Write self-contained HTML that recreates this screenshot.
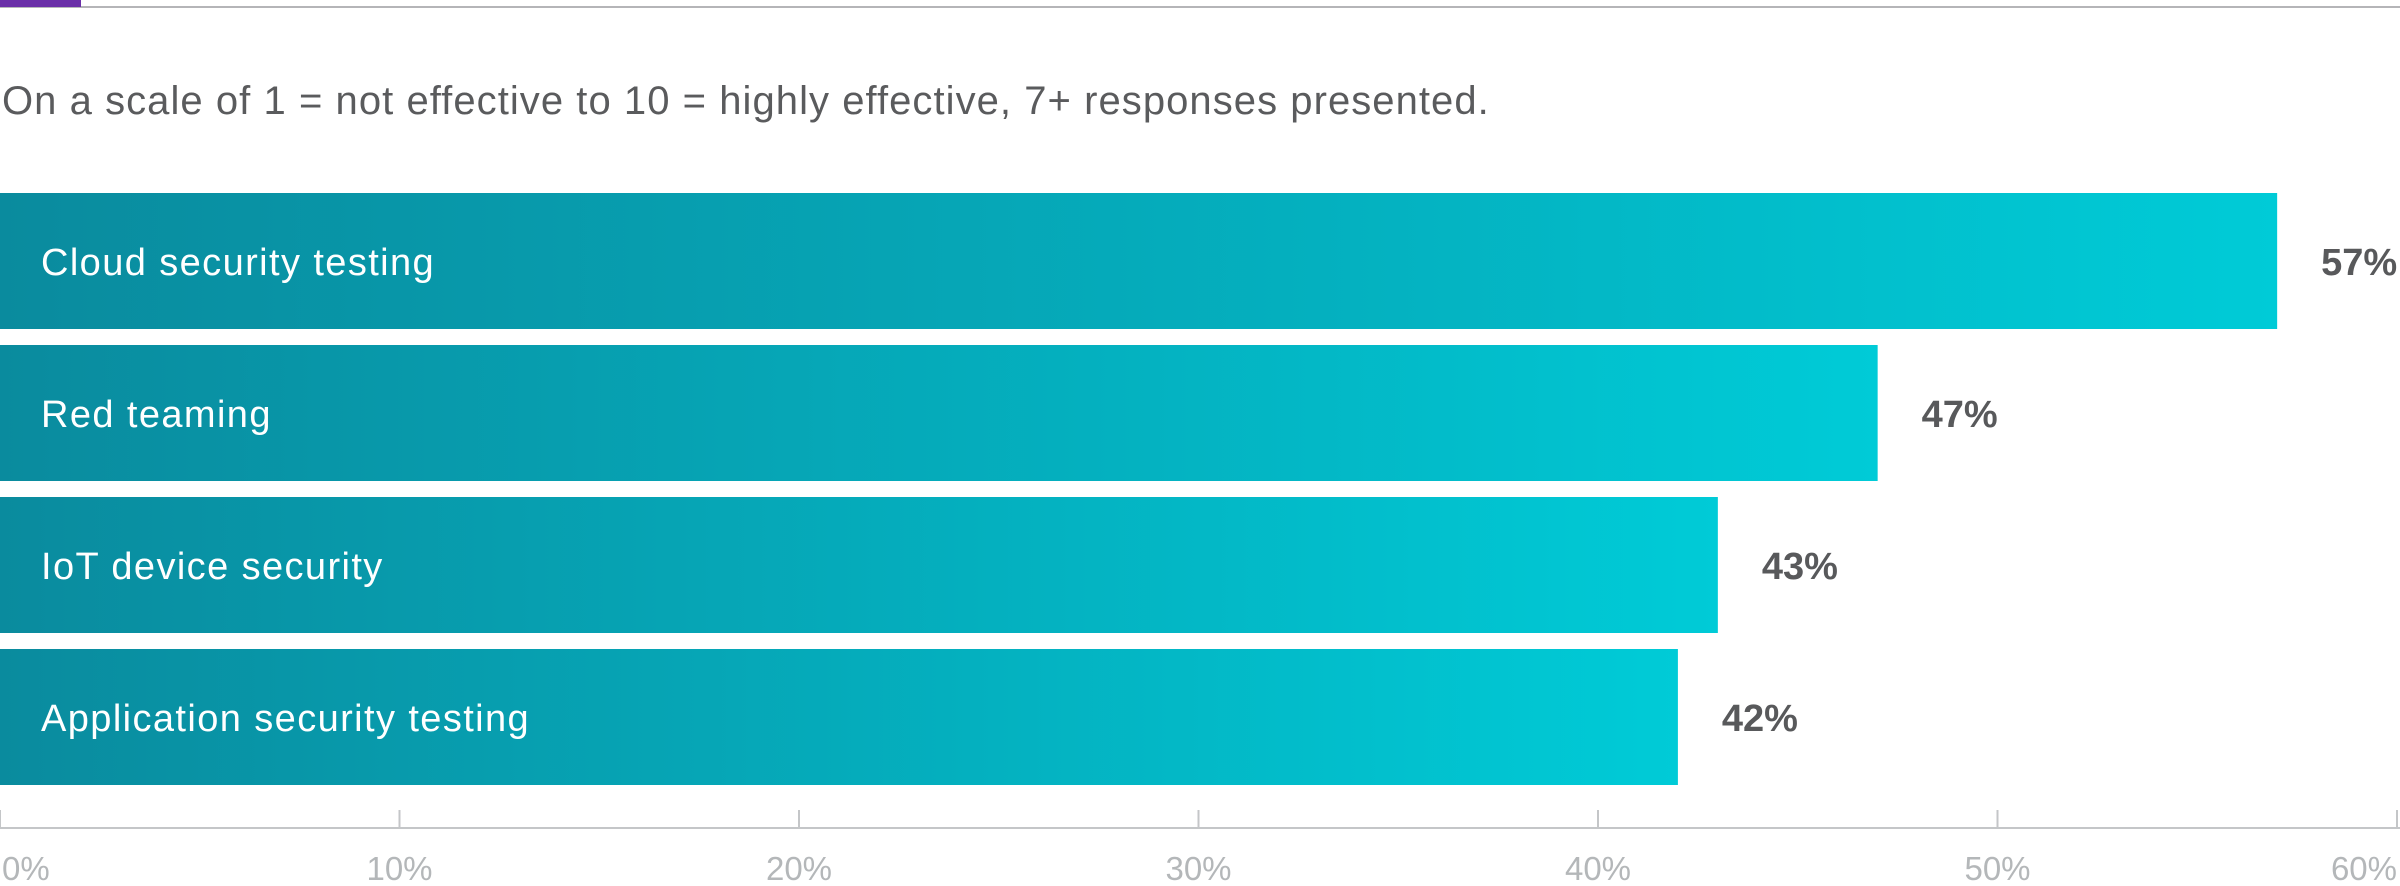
<!DOCTYPE html>
<html><head><meta charset="utf-8"><style>
html,body{margin:0;padding:0;background:#fff;width:2400px;height:886px;overflow:hidden;font-family:"Liberation Sans",sans-serif}
</style></head><body>
<svg width="2400" height="886" viewBox="0 0 2400 886" xmlns="http://www.w3.org/2000/svg">
<defs><linearGradient id="g" x1="0" x2="1" y1="0" y2="0"><stop offset="0" stop-color="#0a8b9e"/><stop offset="1" stop-color="#00cbd7"/></linearGradient></defs>
<rect x="0" y="6" width="2400" height="2" fill="#b5b5b8"/>
<rect x="0" y="0" width="81" height="7" fill="#6a2fa8"/>
<text x="2" y="114" font-size="40" letter-spacing="1.05" fill="#5a5b5d">On a scale of 1 = not effective to 10 = highly effective, 7+ responses presented.</text>
<g id="bars"></g>
<g id="axis"></g>
</svg>
<script>
const categories=["Cloud security testing","Red teaming","IoT device security","Application security testing"];
const values=[57,47,43,42];
const ticks=[0,10,20,30,40,50,60];
const tickLabels=["0%","10%","20%","30%","40%","50%","60%"];
const NS="http://www.w3.org/2000/svg";
const x=v=>v*2397/60;
const y=i=>193+i*152;
const bh=136;
function mk(t,a,p){const e=document.createElementNS(NS,t);for(const k in a)e.setAttribute(k,a[k]);p.appendChild(e);return e;}
const bars=document.getElementById('bars');
categories.forEach((c,i)=>{
  const r=mk('rect',{x:0,y:y(i),width:x(values[i]),height:bh,fill:'url(#g)'},bars);
  
  
  const l=mk('text',{x:41,y:y(i)+82,'font-size':38,'letter-spacing':1.4,fill:'#ffffff'},bars);
  l.textContent=c;
  
  
  const v=mk('text',{x:x(values[i])+44,y:y(i)+82,'font-size':38,'font-weight':'bold',fill:'#58595b'},bars);
  v.textContent=values[i]+'%';
  
  
});
const ax=document.getElementById('axis');
const al=mk('rect',{x:0,y:827,width:2400,height:2,fill:'#c4c6c8'},ax);


ticks.forEach((t,i)=>{
  const tx=Math.min(x(t),2398);
  const tk=mk('rect',{x:tx-1,y:810,width:2,height:18,fill:'#c4c6c8'},ax);
  
  
  const anchor=i===0?'start':(i===ticks.length-1?'end':'middle');
  const lb=mk('text',{x:i===0?2:tx,y:880,'font-size':33,fill:'#b4b7b9','text-anchor':anchor},ax);
  lb.textContent=tickLabels[i];
  
  
});
</script>
</body></html>
